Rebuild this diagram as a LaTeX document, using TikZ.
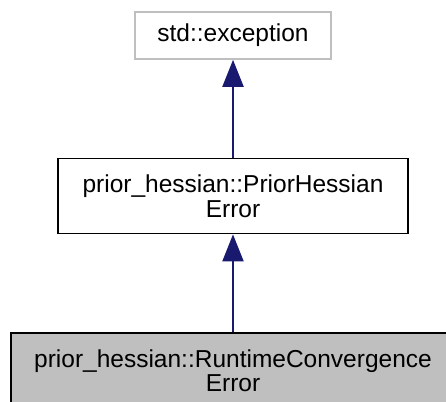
\documentclass[tikz,border=0pt]{standalone}
\usepackage{fontspec}
\setmainfont{Liberation Sans}
\usetikzlibrary{arrows.meta, positioning}
\definecolor{edgeblue}{RGB}{25, 25, 112}
\definecolor{basegray}{RGB}{191, 191, 191}

\begin{document}
\begin{tikzpicture}[
    x=1pt, y=-1pt,
    every node/.style={font=\fontsize{24.5}{24.5}\selectfont},
    classbox/.style={rectangle, draw, line width=1.6pt, align=center, inner sep=0pt, minimum height=75pt},
    arrow/.style={{Triangle[length=27pt, width=21pt]}-, line width=2pt, draw=edgeblue}
]
\fill[white] (0,0) rectangle (446,401);
\useasboundingbox (0,0) rectangle (446,401);
\clip (0,0) rectangle (446,401);

% Classes
\node[classbox, draw=basegray, minimum width=196pt, minimum height=47pt] (exc) at (233,35.5) {std::exception};
\node[classbox, minimum width=350pt, below=98pt of exc] (phe) {prior\_hessian::PriorHessian\\Error};
\node[classbox, fill=basegray, minimum width=444pt, below=98pt of phe] (rce) {prior\_hessian::RuntimeConvergence\\Error};

% Inheritance
\draw[arrow] (exc) -- (phe);
\draw[arrow] (phe) -- (rce);

\end{tikzpicture}
\end{document}
